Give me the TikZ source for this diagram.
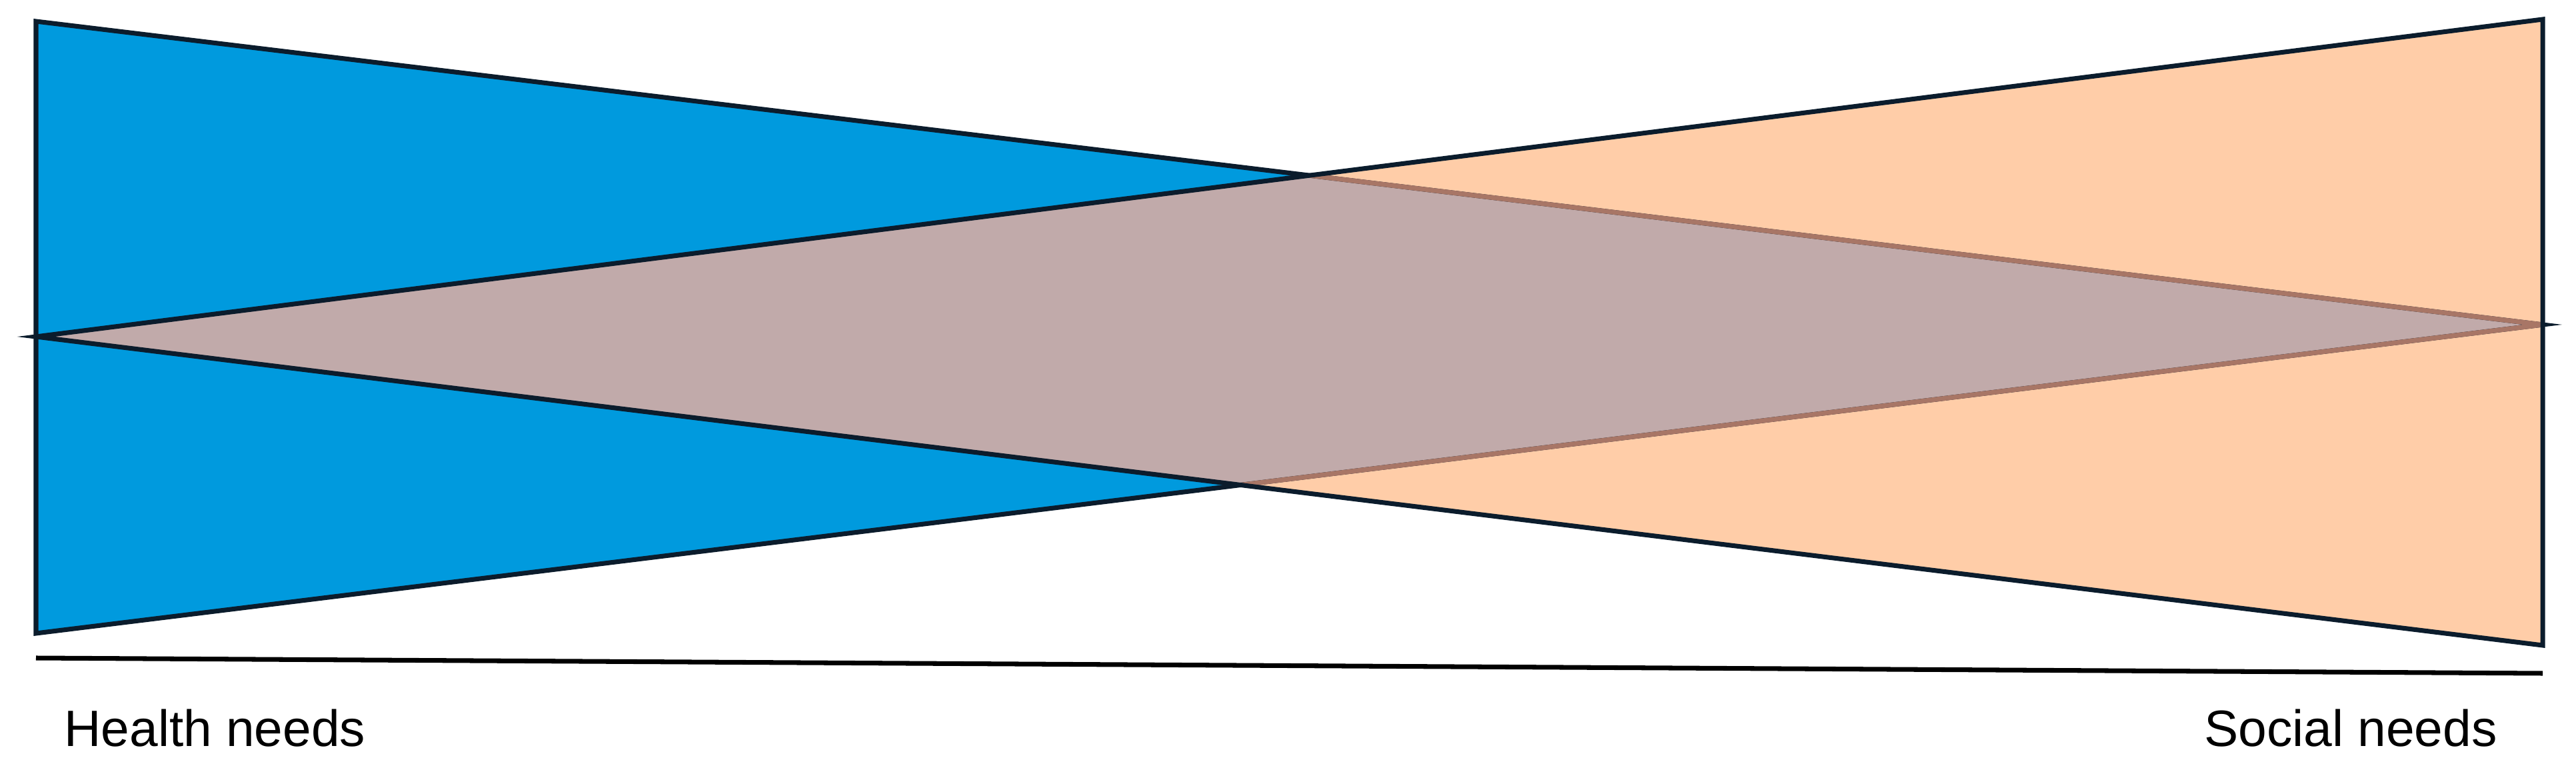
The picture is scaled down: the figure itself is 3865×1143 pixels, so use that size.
\documentclass[tikz,border=0pt]{standalone}
\usepackage{fontspec}
\setmainfont{Liberation Sans}
\usetikzlibrary{calc}
\definecolor{hblue}{HTML}{009ADE}
\definecolor{sorange}{HTML}{FFCDA8}
\definecolor{mixed}{HTML}{C1AAAA}
\definecolor{edgebrown}{HTML}{A87666}
\definecolor{darkline}{HTML}{0B1C2C}

\begin{document}
\begin{tikzpicture}[x=0.01cm, y=-0.01cm, line width=2pt, line join=miter,
  outl/.style={draw=darkline},
  needtext/.style={inner sep=0pt, font=\fontsize{21.8}{26}\selectfont}]
\useasboundingbox (0,0) rectangle (3865,1143);

\coordinate (htop) at (54,32);
\coordinate (hbot) at (54,950);
\coordinate (hend) at (3815,487);
\coordinate (stop) at (3815,29);
\coordinate (sbot) at (3815,968);
\coordinate (send) at (54,505);

\fill [hblue] (htop) -- (hbot) -- (hend) -- cycle;
\fill [sorange] (stop) -- (sbot) -- (send) -- cycle;

% overlap
\begin{scope}
\clip (htop) -- (hbot) -- (hend) -- cycle;
\fill [mixed] (stop) -- (sbot) -- (send) -- cycle;
\end{scope}

\draw [outl] (htop) -- (hbot) -- (hend) -- cycle;
\begin{scope}
\clip (stop) -- (sbot) -- (send) -- cycle;
\draw [edgebrown] (htop) -- (hbot) -- (hend) -- cycle;
\end{scope}
\draw [outl] (stop) -- (sbot) -- (send) -- cycle;

\coordinate (axl) at (54,987);
\coordinate (axr) at (3815,1010);
\draw [black] (axl) -- (axr);

\node [needtext, anchor=base west] (health) at (93,1119) {Health needs};
\node [needtext, anchor=base east] (social) at (3750,1119) {Social needs};

\end{tikzpicture}
\end{document}
